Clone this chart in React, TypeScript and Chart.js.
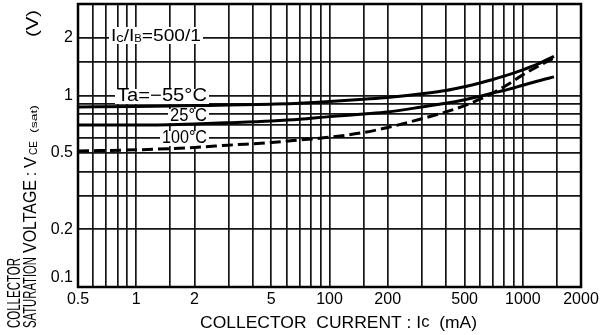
import React, { useEffect, useRef } from "react";
import { Chart, registerables } from "chart.js";

Chart.register(...registerables);

// ---- data ----
const currentTickValues = [0.5, 1, 2, 5, 10, 20, 50, 100, 200];
const currentTickLabels = ["0.5", "1", "2", "5", "100", "200", "500", "1000", "2000"];
const voltageTickValues = [0.1, 0.2, 0.5, 1, 2];
const voltageTickLabels = ["0.1", "0.2", "0.5", "1", "2"];

const currentPoints = [0.5, 1, 2, 3, 5, 7, 10, 15, 20, 30, 40, 50, 60, 70, 80, 100, 120, 145];
const vceMinus55 = [0.87, 0.875, 0.885, 0.89, 0.9, 0.91, 0.93, 0.955, 0.975, 1.02, 1.06, 1.11, 1.16, 1.21, 1.26, 1.36, 1.46, 1.6];
const vce25 = [0.7, 0.7, 0.71, 0.72, 0.735, 0.75, 0.775, 0.8, 0.82, 0.87, 0.91, 0.95, 0.99, 1.03, 1.06, 1.13, 1.19, 1.25];
const vce100 = [0.513, 0.52, 0.535, 0.55, 0.568, 0.585, 0.605, 0.64, 0.68, 0.755, 0.82, 0.885, 0.955, 1.03, 1.11, 1.28, 1.42, 1.57];

const seriesLabels = ["Ta=\u221255\u00b0C", "25\u00b0C", "100\u00b0C"];
const conditionLabel = ["I", "c", "/I", "B", "=500/1"];

const FONT = "'Liberation Sans', Arial, Helvetica, sans-serif";

type Seg = { t: string; size: number; dy?: number };

function drawSegs(ctx: CanvasRenderingContext2D, segs: Seg[], x: number, y: number, targetW: number) {
  let total = 0;
  const widths = segs.map((s) => {
    ctx.font = `${s.size}px ${FONT}`;
    const w = ctx.measureText(s.t).width;
    total += w;
    return w;
  });
  const sx = targetW / total;
  ctx.save();
  ctx.translate(x, y);
  ctx.scale(sx, 1);
  ctx.fillStyle = "#000";
  ctx.textBaseline = "middle";
  ctx.textAlign = "left";
  let cx = 0;
  segs.forEach((s, i) => {
    ctx.font = `${s.size}px ${FONT}`;
    ctx.fillText(s.t, cx, s.dy || 0);
    cx += widths[i];
  });
  ctx.restore();
}

// rotated text piece: starts at screen y = yStart (bottom) and runs upward for `len` px
function drawRot(ctx: CanvasRenderingContext2D, t: string, size: number, xc: number, yStart: number, len: number) {
  ctx.save();
  ctx.translate(xc, yStart);
  ctx.rotate(-Math.PI / 2);
  drawSegs(ctx, [{ t, size }], 0, 0, len);
  ctx.restore();
}

function lookup(v: number, vals: number[], labels: string[]) {
  for (let i = 0; i < vals.length; i++) {
    if (Math.abs(v - vals[i]) / vals[i] < 1e-6) return labels[i];
  }
  return "";
}

const decorPlugin = {
  id: "decor",
  beforeDatasetsDraw(chart: any) {
    const ctx: CanvasRenderingContext2D = chart.ctx;
    const boxes = [
      { x: 109, y: 27, w: 94, h: 17 },
      { x: 115, y: 89, w: 94, h: 15 },
      { x: 168, y: 109, w: 41, h: 14 },
      { x: 160, y: 131, w: 49, h: 15 },
    ];
    ctx.save();
    ctx.fillStyle = "#fff";
    boxes.forEach((b) => ctx.fillRect(b.x, b.y, b.w, b.h));
    ctx.restore();
    drawSegs(
      ctx,
      [
        { t: conditionLabel[0], size: 17 },
        { t: conditionLabel[1], size: 13, dy: 2 },
        { t: conditionLabel[2], size: 17 },
        { t: conditionLabel[3], size: 10, dy: 3 },
        { t: conditionLabel[4], size: 17 },
      ],
      111,
      36,
      90
    );
    drawSegs(ctx, [{ t: seriesLabels[0], size: 18 }], 117, 96, 90);
    drawSegs(ctx, [{ t: seriesLabels[1], size: 18 }], 170, 116, 37);
    drawSegs(ctx, [{ t: seriesLabels[2], size: 18 }], 162, 138, 45);
  },
  afterDraw(chart: any) {
    const ctx: CanvasRenderingContext2D = chart.ctx;
    const a = chart.chartArea;
    ctx.save();
    ctx.strokeStyle = "#000";
    ctx.lineWidth = 2.5;
    ctx.strokeRect(a.left, a.top, a.right - a.left, a.bottom - a.top);
    ctx.restore();
    // x title
    drawSegs(
      ctx,
      [
        { t: "COLLECTOR  CURRENT : I", size: 17 },
        { t: "c", size: 16 },
        { t: "  (mA)", size: 17 },
      ],
      200,
      323,
      277
    );
    // y title (rotated, two columns, bottom aligned)
    drawRot(ctx, "COLLECTOR", 18, 15, 328, 70);
    drawRot(ctx, "SATURATION", 18, 31, 328, 71);
    drawRot(ctx, "VOLTAGE", 18, 31, 253, 73);
    drawRot(ctx, ":", 17, 31, 176, 4);
    drawRot(ctx, "V", 17, 31, 168, 11);
    drawRot(ctx, "CE", 11, 34, 155, 14);
    drawRot(ctx, "(sat)", 9, 35, 133, 28);
    drawRot(ctx, "(V)", 17, 33, 37, 27);
  },
};

export default function App() {
  const ref = useRef<HTMLCanvasElement | null>(null);
  useEffect(() => {
    if (!ref.current) return;
    const mk = (arr: number[]) => currentPoints.map((x, i) => ({ x, y: arr[i] }));
    const chart = new Chart(ref.current, {
      type: "line",
      data: {
        datasets: [
          { label: seriesLabels[0], data: mk(vceMinus55), borderColor: "#000", borderWidth: 3, pointRadius: 0, cubicInterpolationMode: "monotone" },
          { label: seriesLabels[1], data: mk(vce25), borderColor: "#000", borderWidth: 3, pointRadius: 0, cubicInterpolationMode: "monotone" },
          { label: seriesLabels[2], data: mk(vce100), borderColor: "#000", borderWidth: 3, borderDash: [11, 5], pointRadius: 0, cubicInterpolationMode: "monotone" },
        ],
      } as any,
      options: {
        responsive: false,
        animation: false,
        devicePixelRatio: 1,
        layout: { padding: { left: 0, right: 24, top: 4, bottom: 0 } },
        plugins: { legend: { display: false }, tooltip: { enabled: false }, title: { display: false } },
        scales: {
          x: {
            type: "logarithmic",
            min: 0.5,
            max: 200,
            afterFit: (s: any) => {
              s.height = 48;
              s.paddingLeft = 0;
              s.paddingRight = 0;
            },
            grid: { color: "#151515", lineWidth: 1.7, drawTicks: false },
            border: { display: false },
            ticks: {
              autoSkip: false,
              maxRotation: 0,
              padding: 3,
              color: "#000",
              font: { family: FONT, size: 16 },
              callback: (v: any) => lookup(Number(v), currentTickValues, currentTickLabels),
            },
          },
          y: {
            type: "logarithmic",
            min: 0.1,
            max: 3,
            afterFit: (s: any) => {
              s.width = 78;
              s.paddingTop = 0;
              s.paddingBottom = 0;
            },
            grid: { color: "#151515", lineWidth: 1.7, drawTicks: false },
            border: { display: false },
            ticks: {
              autoSkip: false,
              padding: 5,
              color: "#000",
              font: { family: FONT, size: 16 },
              callback: (v: any) => {
                const l = lookup(Number(v), voltageTickValues, voltageTickLabels);
                return l === "0.1" ? [l, ""] : l;
              },
            },
          },
        },
      } as any,
      plugins: [decorPlugin],
    });
    return () => chart.destroy();
  }, []);
  return (
    <canvas
      ref={ref}
      width={605}
      height={335}
      style={{ position: "fixed", left: 0, top: 0, display: "block", background: "#fff" }}
    />
  );
}
